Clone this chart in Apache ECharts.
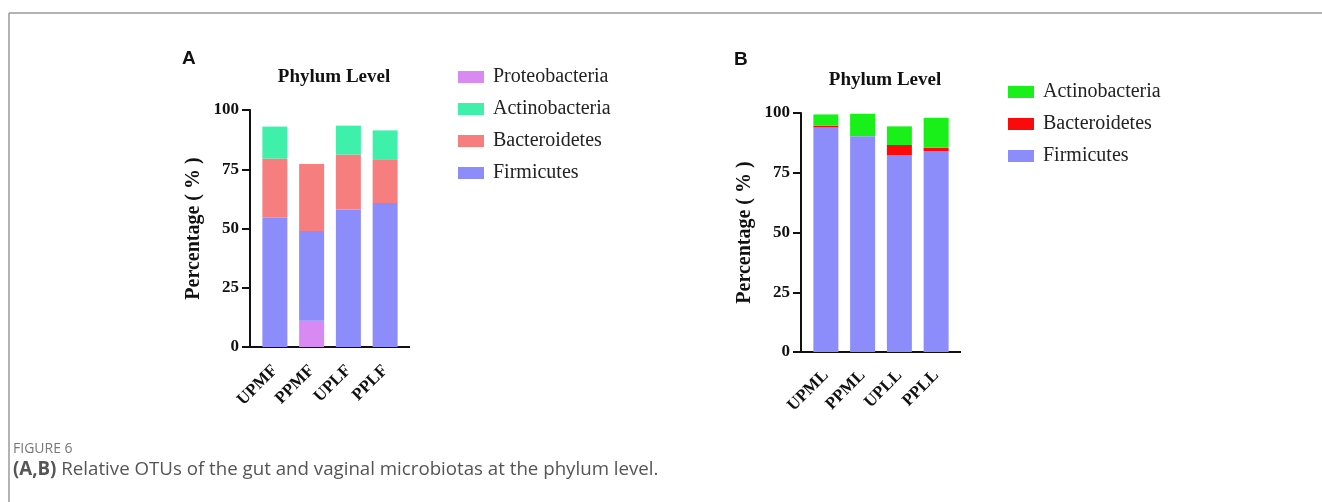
<!DOCTYPE html>
<html>
<head>
<meta charset="utf-8">
<script src="https://cdn.jsdelivr.net/npm/echarts@6/dist/echarts.min.js"></script>
<style>
  html, body { margin: 0; padding: 0; background: #fff; }
  #main { width: 1322px; height: 502px; }
</style>
</head>
<body>
<div id="main"></div>
<script>
// panel A - gut (feces)
const catsA = ['UPMF', 'PPMF', 'UPLF', 'PPLF'];
const proteoA = [0, 11.1, 0, 0];
const firmA = [54.5, 37.8, 58.0, 60.8];
const bactA = [25.0, 28.3, 23.2, 18.4];
const actinoA = [13.5, 0, 12.2, 12.2];

// panel B - vaginal
const catsB = ['UPML', 'PPML', 'UPLL', 'PPLL'];
const firmB = [94.1, 90.3, 82.4, 84.1];
const bactB = [0.6, 0, 4.2, 1.4];
const actinoB = [4.7, 9.4, 7.8, 12.5];

const yTicks = [0, 25, 50, 75, 100];

const serif = 'Liberation Serif';
const colA = { proteo: '#D98AF2', actino: '#3EF0AA', bact: '#F77E7E', firm: '#8C8CFB' };
const colB = { actino: '#19F019', bact: '#FA0A0A', firm: '#8C8CFB' };

// GraphPad style: axes stick out a bit past the plotting band
const pad = 6.5;

function yAxis(gridIndex) {
  return {
    type: 'value', gridIndex: gridIndex, offset: pad,
    min: yTicks[0], max: yTicks[yTicks.length - 1], interval: 25,
    name: 'Percentage ( % )', nameLocation: 'middle', nameGap: 46,
    nameTextStyle: { fontFamily: serif, fontWeight: 'bold', fontSize: 20, color: '#111' },
    axisLine: { show: true, lineStyle: { color: '#111', width: 2 } },
    axisTick: { show: true, length: 8, lineStyle: { color: '#111', width: 2 } },
    axisLabel: { fontFamily: serif, fontWeight: 'bold', fontSize: 17, color: '#111', margin: 11 },
    splitLine: { show: false }
  };
}
function xAxis(gridIndex, cats) {
  return {
    type: 'category', gridIndex: gridIndex, data: cats,
    axisLine: { lineStyle: { color: '#111', width: 2 } },
    axisTick: { alignWithLabel: true, length: 9, lineStyle: { color: '#111', width: 2 } },
    axisLabel: { rotate: 45, fontFamily: serif, fontWeight: 'bold', fontSize: 17, color: '#111', margin: 21, interval: 0 }
  };
}
function bar(name, data, color, xi, stack) {
  return {
    name: name, type: 'bar', stack: stack, data: data,
    xAxisIndex: xi, yAxisIndex: xi, barWidth: 25,
    itemStyle: { color: color }
  };
}
function legend(left, top, items) {
  return {
    left: left, top: top, orient: 'vertical', icon: 'rect',
    itemWidth: 26, itemHeight: 12, itemGap: 12,
    textStyle: { fontFamily: serif, fontSize: 20, color: '#222', padding: [0, 0, 0, 4] },
    data: items.map(function (it) { return { name: it[0], itemStyle: { color: it[1] } }; })
  };
}
function axisStubs(left, bottom, width) {
  // extend the x axis line past the band to meet the offset y axis
  return [
    { type: 'line', shape: { x1: left - pad - 1, y1: bottom, x2: left + 1, y2: bottom }, style: { stroke: '#111', lineWidth: 2 } },
    { type: 'line', shape: { x1: left + width - 1, y1: bottom, x2: left + width + pad, y2: bottom }, style: { stroke: '#111', lineWidth: 2 } }
  ];
}

const gridA = { left: 250 + pad, top: 110, width: 160 - 2 * pad, height: 237 };
const gridB = { left: 801 + pad, top: 113, width: 160 - 2 * pad, height: 239 };

const chart = echarts.init(document.getElementById('main'));
chart.setOption({
  animation: false,
  title: [
    { text: 'Phylum Level', left: 329, top: 63, textAlign: 'center',
      textStyle: { fontFamily: serif, fontWeight: 'bold', fontSize: 19, color: '#111' } },
    { text: 'Phylum Level', left: 880, top: 66, textAlign: 'center',
      textStyle: { fontFamily: serif, fontWeight: 'bold', fontSize: 19, color: '#111' } }
  ],
  legend: [
    legend(453, 62, [['Proteobacteria', colA.proteo], ['Actinobacteria', colA.actino],
                     ['Bacteroidetes', colA.bact], ['Firmicutes', colA.firm]]),
    legend(1003, 77, [['Actinobacteria', colB.actino], ['Bacteroidetes', colB.bact],
                      ['Firmicutes', colB.firm]])
  ],
  grid: [gridA, gridB],
  xAxis: [xAxis(0, catsA), xAxis(1, catsB)],
  yAxis: [yAxis(0), yAxis(1)],
  series: [
    bar('Proteobacteria', proteoA, colA.proteo, 0, 'a'),
    bar('Firmicutes', firmA, colA.firm, 0, 'a'),
    bar('Bacteroidetes', bactA, colA.bact, 0, 'a'),
    bar('Actinobacteria', actinoA, colA.actino, 0, 'a'),
    bar('Firmicutes', firmB, colB.firm, 1, 'b'),
    bar('Bacteroidetes', bactB, colB.bact, 1, 'b'),
    bar('Actinobacteria', actinoB, colB.actino, 1, 'b')
  ],
  graphic: [
    // figure frame
    { type: 'line', shape: { x1: 9, y1: 13, x2: 1322, y2: 13 }, style: { stroke: '#9a9a9a', lineWidth: 1.5 } },
    { type: 'line', shape: { x1: 9, y1: 13, x2: 9, y2: 502 }, style: { stroke: '#9a9a9a', lineWidth: 1.5 } },
    // panel letters
    { type: 'text', left: 182, top: 49, style: { text: 'A', font: 'bold 19px "Liberation Sans"', fill: '#111' } },
    { type: 'text', left: 734, top: 50, style: { text: 'B', font: 'bold 19px "Liberation Sans"', fill: '#111' } },
    // caption
    { type: 'text', left: 13, top: 442, style: { text: 'FIGURE 6', font: '14px "Open Sans"', fill: '#777' } },
    { type: 'text', left: 13, top: 460, style: {
        text: '{b|(A,B)} Relative OTUs of the gut and vaginal microbiotas at the phylum level.',
        font: '18.7px "Open Sans"', fill: '#555',
        rich: { b: { fontFamily: 'Open Sans', fontWeight: 'bold', fontSize: 18.7, fill: '#555' } }
      } }
  ].concat(axisStubs(gridA.left, gridA.top + gridA.height, gridA.width),
           axisStubs(gridB.left, gridB.top + gridB.height, gridB.width))
});
</script>
</body>
</html>
